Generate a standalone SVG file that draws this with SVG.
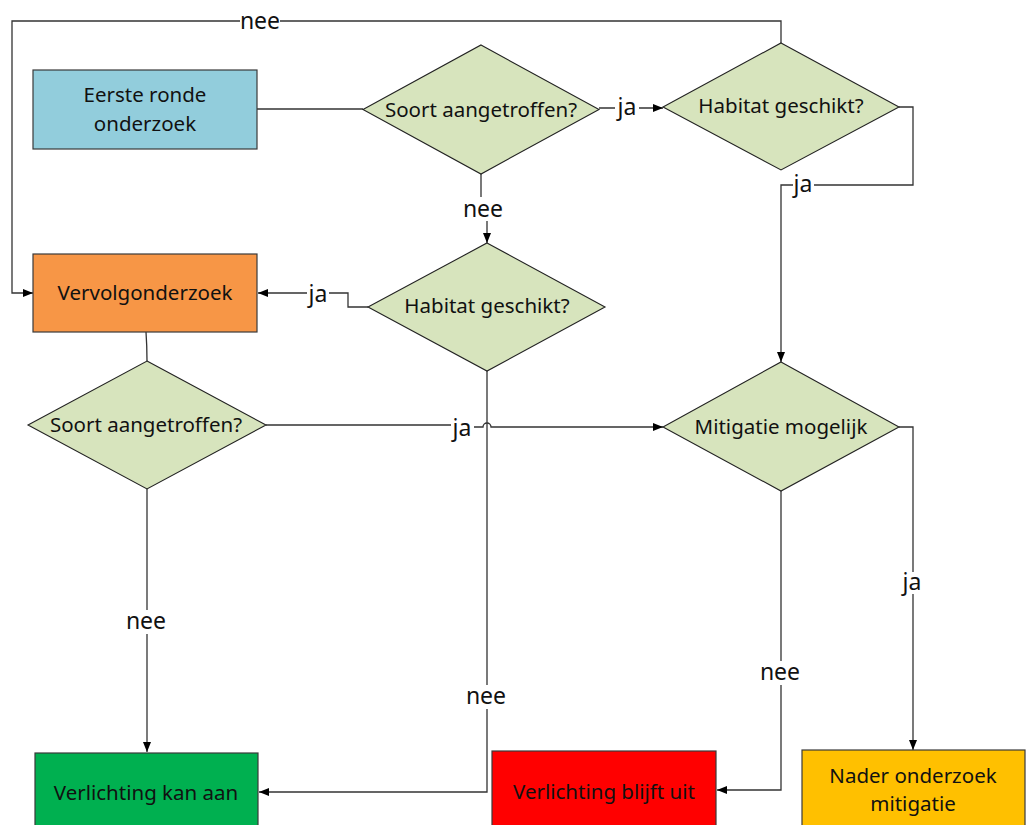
<svg xmlns="http://www.w3.org/2000/svg" width="1026" height="825" viewBox="0 0 1026 825">
<style>
.box{stroke:#3a3a3a;stroke-width:1.2}
.dia{fill:#D7E4BD;stroke:#222;stroke-width:1.1}
.t{font-family:"Noto Sans","Open Sans",sans-serif;font-size:20.5px;fill:#111;text-anchor:middle}
.c{fill:none;stroke:#333;stroke-width:1.3}
.lb{font-family:"Noto Sans","Open Sans",sans-serif;font-size:23px;fill:#111;text-anchor:middle}
.bg{fill:#fff}
</style>
<defs>
<marker id="ah" viewBox="0 0 10 10" refX="10" refY="5" markerWidth="10" markerHeight="10" markerUnits="userSpaceOnUse" orient="auto">
<path d="M0,1 L10,5 L0,9 Z" fill="#000"/>
</marker>
</defs>
<rect width="1026" height="825" fill="#fff"/>
<g id="connectors">
<path class="c" d="M257,109 H363"/>
<path class="c" d="M599,108 H663" marker-end="url(#ah)"/>
<path class="c" d="M781,43 V21 H12 V293 H33" marker-end="url(#ah)"/>
<path class="c" d="M481,174 V210 H487 V243" marker-end="url(#ah)"/>
<path class="c" d="M899,107 H913 V185 H781 V362" marker-end="url(#ah)"/>
<path class="c" d="M368,307 H348 V293 H258" marker-end="url(#ah)"/>
<path class="c" d="M146,332 Q147,346 147,361"/>
<path class="c" d="M266,425 H462 V427 H483 a4,4 0 0 1 8,0 H663" marker-end="url(#ah)"/>
<path class="c" d="M487,371 V792 H259" marker-end="url(#ah)"/>
<path class="c" d="M147,489 V752" marker-end="url(#ah)"/>
<path class="c" d="M781,491 V790 H717" marker-end="url(#ah)"/>
<path class="c" d="M899,427 H913 V750" marker-end="url(#ah)"/>
<g id="labels">
<rect class="bg" x="240" y="10" width="40" height="22"/><text class="lb" x="260" y="29">nee</text>
<rect class="bg" x="615" y="97" width="24" height="22"/><text class="lb" x="627" y="115">ja</text>
<rect class="bg" x="461" y="197" width="44" height="24"/><text class="lb" x="483" y="217">nee</text>
<rect class="bg" x="793" y="175" width="21" height="20"/><text class="lb" x="803" y="192">ja</text>
<rect class="bg" x="307" y="283" width="22" height="21"/><text class="lb" x="318" y="302">ja</text>
<rect class="bg" x="451" y="416" width="23" height="22"/><text class="lb" x="462" y="436">ja</text>
<rect class="bg" x="900" y="572" width="24" height="22"/><text class="lb" x="912" y="590">ja</text>
<rect class="bg" x="125" y="610" width="43" height="24"/><text class="lb" x="146" y="629">nee</text>
<rect class="bg" x="465" y="685" width="43" height="24"/><text class="lb" x="486" y="704">nee</text>
<rect class="bg" x="759" y="661" width="43" height="24"/><text class="lb" x="780" y="680">nee</text>
</g>
</g>
<g id="eerste">
<rect class="box" x="33" y="70" width="224" height="79" fill="#92CDDC"/>
<text class="t" x="145" y="102">Eerste ronde</text>
<text class="t" x="145" y="131">onderzoek</text>
</g>
<g id="soort1">
<polygon class="dia" points="481,45 599,109.5 481,174 363,109.5"/>
<text class="t" x="481" y="117">Soort aangetroffen?</text>
</g>
<g id="habitat1">
<polygon class="dia" points="781,43 899,107 781,170 663,107"/>
<text class="t" x="781" y="113">Habitat geschikt?</text>
</g>
<g id="vervolg">
<rect class="box" x="33" y="254" width="224" height="78" fill="#F79646"/>
<text class="t" x="145" y="300">Vervolgonderzoek</text>
</g>
<g id="habitat2">
<polygon class="dia" points="487,243 605,307 487,371 368,307"/>
<text class="t" x="487" y="313">Habitat geschikt?</text>
</g>
<g id="soort2">
<polygon class="dia" points="147,361 266,425 147,489 28,425"/>
<text class="t" x="146" y="432">Soort aangetroffen?</text>
</g>
<g id="mitigatie">
<polygon class="dia" points="781,362 899,427 781,491 663,427"/>
<text class="t" x="781" y="434">Mitigatie mogelijk</text>
</g>
<g id="kanaan">
<rect class="box" x="35" y="753" width="223" height="80" fill="#00B050"/>
<text class="t" x="146" y="800">Verlichting kan aan</text>
</g>
<g id="blijftuit">
<rect class="box" x="492" y="751" width="224" height="82" fill="#FF0000"/>
<text class="t" x="604" y="799">Verlichting blijft uit</text>
</g>
<g id="nader">
<rect class="box" x="802" y="750" width="223" height="83" fill="#FFC000"/>
<text class="t" x="913" y="783">Nader onderzoek</text>
<text class="t" x="913" y="811">mitigatie</text>
</g>
</svg>
